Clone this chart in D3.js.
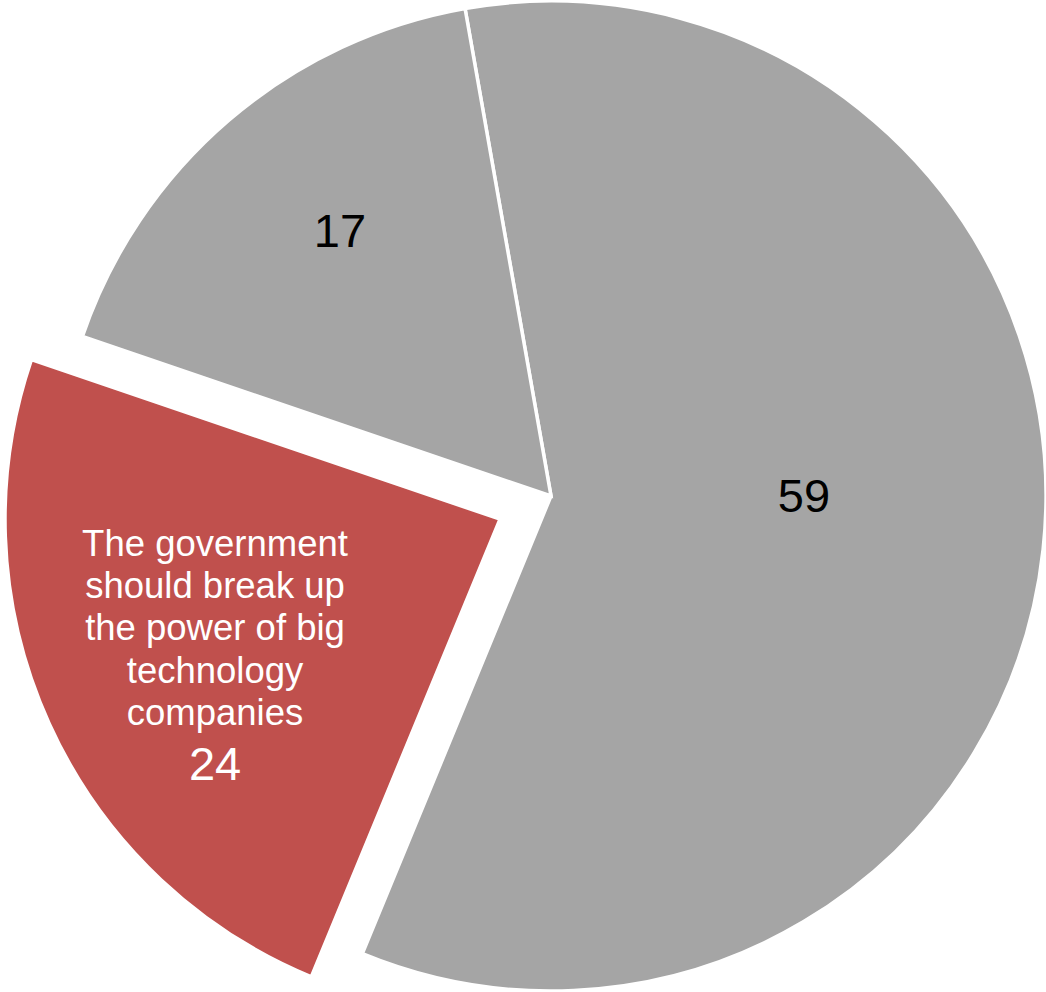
<!DOCTYPE html>
<html>
<head>
<meta charset="utf-8">
<script src="https://cdn.jsdelivr.net/npm/d3@7"></script>
<style>
  html, body { margin: 0; padding: 0; background: #ffffff; }
  svg { display: block; }
</style>
</head>
<body>
<svg id="chart" width="1046" height="992"></svg>
<script>
// ---- data ----
const categories = ["Other", "The government should break up the power of big technology companies", "Neither"];
const values = [59, 24, 17];
const labelLines = [[], ["The government", "should break up", "the power of big", "technology", "companies"], []];
const highlighted = [false, true, false];

// ---- layout ----
const W = 1046, H = 992;
const cx = 551, cy = 496, R = 495;
const explode = 56;
const colors = ["#A5A5A5", "#C0504D", "#A5A5A5"];

const svg = d3.select("#chart");
const g = svg.append("g").attr("transform", `translate(${cx},${cy})`);

const data = values.map((v, i) => ({ name: categories[i], value: v, lines: labelLines[i], hi: highlighted[i], color: colors[i] }));

const startDeg = -10;
const pie = d3.pie().sort(null).value(d => d.value)
  .startAngle(startDeg * Math.PI / 180)
  .endAngle((startDeg + 360) * Math.PI / 180);
const arcs = pie(data);
const arc = d3.arc().innerRadius(0).outerRadius(R);

function dir(a) { return [Math.sin(a), -Math.cos(a)]; }

const slices = g.selectAll("g.slice").data(arcs).join("g")
  .attr("class", "slice")
  .attr("transform", d => {
    if (!d.data.hi) return null;
    const m = (d.startAngle + d.endAngle) / 2;
    const [ux, uy] = dir(m);
    return `translate(${ux * explode},${uy * explode})`;
  });

slices.append("path")
  .attr("d", arc)
  .attr("fill", d => d.data.color)
  .attr("stroke", "#ffffff")
  .attr("stroke-width", 3.5)
  .attr("stroke-linejoin", "miter");

// label placement config (fraction of radius along mid-angle, plus small tweaks)
const labelCfg = [
  { k: 0.52, dx: -3, dy: -12 },
  { k: 0.63, dx: -1, dy: -3 },
  { k: 0.68, dx: 8, dy: 6.5 }
];

slices.each(function (d, i) {
  const m = (d.startAngle + d.endAngle) / 2;
  const [ux, uy] = dir(m);
  const c = labelCfg[i];
  const x = ux * c.k * R + c.dx;
  const y = uy * c.k * R + c.dy;
  const sel = d3.select(this);
  const font = "Liberation Sans, Arial, Helvetica, sans-serif";
  if (d.data.lines.length) {
    const lh = 42.25;
    const top = y - 89;
    d.data.lines.forEach((ln, j) => {
      sel.append("text")
        .attr("x", x).attr("y", top + j * lh)
        .attr("text-anchor", "middle")
        .attr("font-family", font)
        .attr("font-size", 36.5)
        .attr("fill", "#ffffff")
        .text(ln);
    });
    sel.append("text")
      .attr("x", x).attr("y", y + 135)
      .attr("text-anchor", "middle")
      .attr("font-family", font)
      .attr("font-size", 47)
      .attr("fill", "#ffffff")
      .text(d.data.value);
  } else {
    sel.append("text")
      .attr("x", x).attr("y", y)
      .attr("text-anchor", "middle")
      .attr("font-family", font)
      .attr("font-size", 47)
      .attr("fill", "#000000")
      .text(d.data.value);
  }
});
</script>
</body>
</html>
